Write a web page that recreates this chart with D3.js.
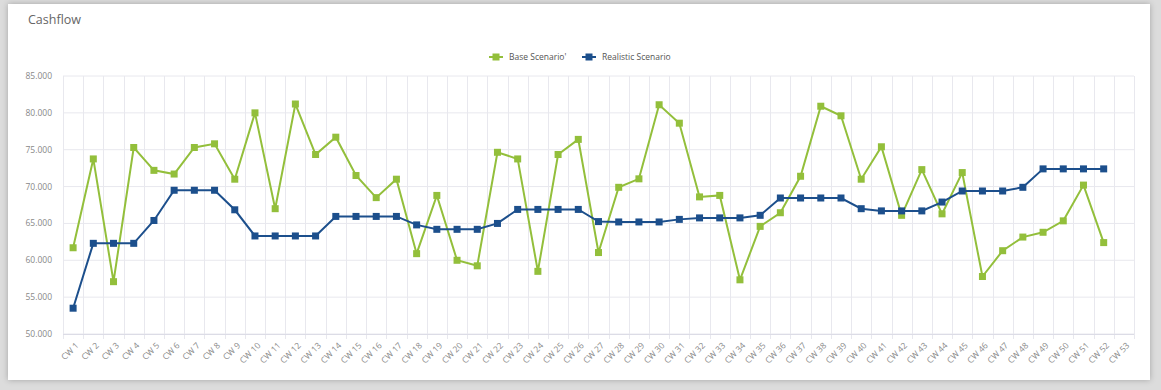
<!DOCTYPE html>
<html>
<head>
<meta charset="utf-8">
<script src="https://cdnjs.cloudflare.com/ajax/libs/d3/7.8.5/d3.min.js"></script>
<style>
  html, body { margin: 0; padding: 0; background: #dcdcdc; }
  body { width: 1161px; height: 390px; overflow: hidden; position: relative; }
  #card {
    position: absolute; left: 8px; top: 4px; width: 1142px; height: 376px;
    background: #fff; box-shadow: 0 0 6px rgba(0,0,0,0.25);
  }
  svg { position: absolute; left: 0; top: 0; font-family: "Open Sans", sans-serif; }
</style>
</head>
<body>
<div id="card"></div>
<div id="chart"></div>
<script>
// Chart size
var svgWidth = 1161;
var svgHeight = 390;

// Plot area borders
var margin = { top: 76, right: 27, bottom: 56, left: 63 };
var width = svgWidth - margin.left - margin.right;
var height = svgHeight - margin.top - margin.bottom;

// Data
var weeks = d3.range(1, 54).map(function(i) { return "CW " + i; });

var baseScenario = [
  61700, 73750, 57100, 75300, 72200, 71700, 75300, 75800, 71000, 80000,
  67000, 81200, 74350, 76700, 71500, 68500, 71000, 60900, 68800, 60000,
  59250, 74650, 73750, 58500, 74350, 76400, 61050, 69900, 71050, 81100,
  78600, 68600, 68800, 57350, 64600, 66450, 71400, 80900, 79600, 71000,
  75400, 66100, 72300, 66300, 71900, 57800, 61300, 63150, 63800, 65350,
  70200, 62400
];

var realisticScenario = [
  53500, 62300, 62300, 62300, 65400, 69500, 69500, 69500, 66850, 63300,
  63300, 63300, 63300, 65950, 65950, 65950, 65950, 64800, 64200, 64200,
  64200, 65000, 66900, 66900, 66900, 66900, 65250, 65200, 65200, 65200,
  65550, 65750, 65750, 65750, 66100, 68450, 68450, 68450, 68450, 67000,
  66700, 66700, 66700, 67900, 69400, 69400, 69400, 69900, 72400, 72400,
  72400, 72400
];

var yTicks = [50000, 55000, 60000, 65000, 70000, 75000, 80000, 85000];

var series = [
  { name: "Base Scenario'", values: baseScenario, color: "#93bf3b" },
  { name: "Realistic Scenario", values: realisticScenario, color: "#1c4f8c" }
];

var svg = d3.select("#chart")
  .append("svg")
  .attr("width", svgWidth)
  .attr("height", svgHeight);

// Title
svg.append("text")
  .attr("x", 28)
  .attr("y", 24)
  .attr("font-size", "12.5px")
  .attr("fill", "#666")
  .text("Cashflow");

var chartGroup = svg.append("g")
  .attr("transform", `translate(${margin.left}, ${margin.top})`);

// Scales
var xBandScale = d3.scaleBand()
  .domain(weeks)
  .range([0, width]);

var yLinearScale = d3.scaleLinear()
  .domain([50000, 85000])
  .range([height, 0]);

// Horizontal gridlines
chartGroup.append("g")
  .selectAll("line")
  .data(yTicks)
  .enter()
  .append("line")
  .attr("x1", 0)
  .attr("x2", width)
  .attr("y1", d => yLinearScale(d))
  .attr("y2", d => yLinearScale(d))
  .attr("stroke", "#e8e8ee")
  .attr("stroke-width", 1);

// Vertical gridlines at band edges
var edges = weeks.map(d => xBandScale(d)).concat([width]);
chartGroup.append("g")
  .selectAll("line")
  .data(edges)
  .enter()
  .append("line")
  .attr("x1", d => Math.round(d) + 0.5)
  .attr("x2", d => Math.round(d) + 0.5)
  .attr("y1", 0)
  .attr("y2", height + 5)
  .attr("stroke", "#e8e8ee")
  .attr("stroke-width", 1);

// Bottom axis line
chartGroup.append("line")
  .attr("x1", 0)
  .attr("x2", width)
  .attr("y1", height + 0.5)
  .attr("y2", height + 0.5)
  .attr("stroke", "#dcdce6");

// Y axis labels
var fmt = d3.format(",.3f");
chartGroup.append("g")
  .selectAll("text")
  .data(yTicks)
  .enter()
  .append("text")
  .attr("x", -11)
  .attr("y", d => yLinearScale(d))
  .attr("dy", "0.35em")
  .attr("text-anchor", "end")
  .attr("font-size", "8.5px")
  .attr("fill", "#888")
  .text(d => fmt(d / 1000));

// X axis labels, rotated
chartGroup.append("g")
  .selectAll("text")
  .data(weeks)
  .enter()
  .append("text")
  .attr("transform", d => `translate(${xBandScale(d) + xBandScale.bandwidth() / 2 + 4}, ${height + 10}) rotate(-45)`)
  .attr("text-anchor", "end")
  .attr("dy", "0.35em")
  .attr("font-size", "8.5px")
  .attr("fill", "#888")
  .text(d => d);

// Lines and markers
var line = d3.line()
  .x((d, i) => xBandScale(weeks[i]) + xBandScale.bandwidth() / 2)
  .y(d => yLinearScale(d));

series.forEach(function(s) {
  chartGroup.append("path")
    .datum(s.values)
    .attr("fill", "none")
    .attr("stroke", s.color)
    .attr("stroke-width", 2)
    .attr("d", line);

  chartGroup.append("g")
    .selectAll("rect")
    .data(s.values)
    .enter()
    .append("rect")
    .attr("x", (d, i) => xBandScale(weeks[i]) + xBandScale.bandwidth() / 2 - 3.5)
    .attr("y", d => yLinearScale(d) - 3.5)
    .attr("width", 7)
    .attr("height", 7)
    .attr("fill", s.color);
});

// Legend
var legend = svg.append("g")
  .attr("transform", "translate(489, 57)");

var legendX = [0, 93];
series.forEach(function(s, i) {
  var g = legend.append("g")
    .attr("transform", `translate(${legendX[i]}, 0)`);
  g.append("line")
    .attr("x1", 0)
    .attr("x2", 14)
    .attr("y1", 0)
    .attr("y2", 0)
    .attr("stroke", s.color)
    .attr("stroke-width", 2);
  g.append("rect")
    .attr("x", 3.5)
    .attr("y", -3.5)
    .attr("width", 7)
    .attr("height", 7)
    .attr("fill", s.color);
  g.append("text")
    .attr("x", 20)
    .attr("y", 0)
    .attr("dy", "0.35em")
    .attr("font-size", "8.5px")
    .attr("fill", "#555")
    .text(s.name);
});
</script>
</body>
</html>
